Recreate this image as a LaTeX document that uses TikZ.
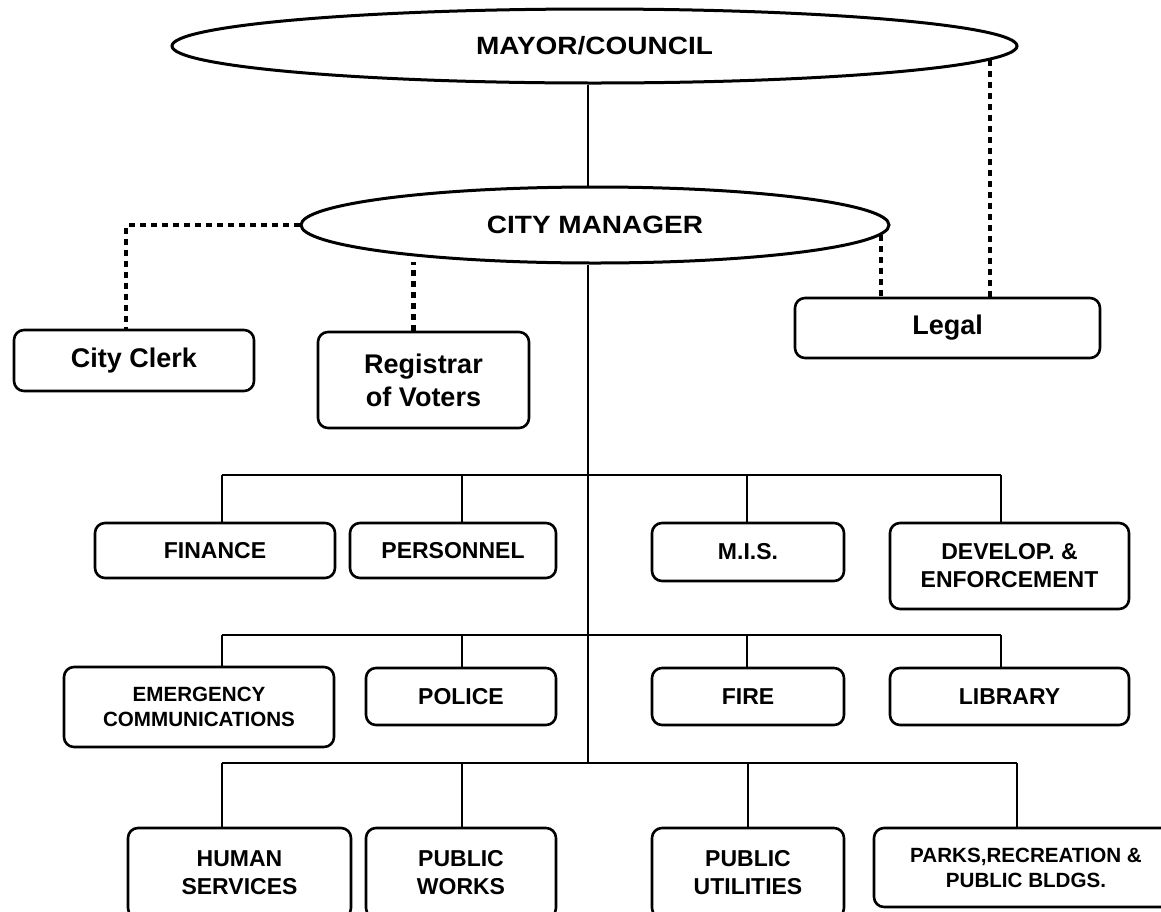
\documentclass[tikz,border=0pt]{standalone}
\usepackage{fontspec}
\setmainfont{Liberation Sans}
\newfontfamily\ovalfont{Liberation Sans}[FakeStretch=1.12]
\usetikzlibrary{shapes.geometric}
\tikzset{dbox/.style={draw, rounded corners=5pt, line width=1.3pt, align=center, inner sep=0pt, font=\bfseries\fontsize{11.5}{14}\selectfont}}
\tikzset{doval/.style={draw, ellipse, line width=1.5pt, inner sep=0pt, font=\ovalfont\bfseries\fontsize{12.5}{15}\selectfont}}
\tikzset{lgtext/.style={font=\bfseries\fontsize{13.5}{16.5}\selectfont}}
\tikzset{smtext/.style={font=\bfseries\fontsize{10.3}{12.5}\selectfont}}
\tikzset{ln/.style={draw, line width=1pt}}
\tikzset{dotln/.style={draw, line width=2.2pt, dash pattern=on 3pt off 2.5pt}}

\begin{document}
\begin{tikzpicture}[x=0.5pt, y=-0.5pt]
        \useasboundingbox (0,0) rectangle (1161,911);
        \clip (0,0) rectangle (1161,911);

        \node[doval, minimum width=422.5pt, minimum height=37pt] (Mayor) at (594.5,46) {MAYOR/COUNCIL};
        \node[doval, minimum width=294pt, minimum height=38pt] (CM) at (595,225) {CITY MANAGER};

        \node[dbox, lgtext, minimum width=120pt, minimum height=30.5pt] (Clerk) at (134,360.5) {City Clerk};
        \node[dbox, lgtext, minimum width=105.5pt, minimum height=48pt] (Reg) at (423.5,380) {Registrar\\of Voters};
        \node[dbox, lgtext, minimum width=152.5pt, minimum height=30pt] (Legal) at (947.5,328) {Legal};

        \node[dbox, minimum width=120pt, minimum height=27.5pt] (Fin) at (215,550.5) {FINANCE};
        \node[dbox, minimum width=103pt, minimum height=27.5pt] (Pers) at (453,550.5) {PERSONNEL};
        \node[dbox, minimum width=96pt, minimum height=29pt] (MIS) at (748,552) {M.I.S.};
        \node[dbox, minimum width=119.5pt, minimum height=43pt] (Dev) at (1009.5,566) {DEVELOP. \&\\ENFORCEMENT};

        \node[dbox, smtext, minimum width=135pt, minimum height=40pt] (Emc) at (199,707) {EMERGENCY\\COMMUNICATIONS};
        \node[dbox, minimum width=95pt, minimum height=28.5pt] (Pol) at (461,696.5) {POLICE};
        \node[dbox, minimum width=96pt, minimum height=28.5pt] (Fire) at (748,696.5) {FIRE};
        \node[dbox, minimum width=119.5pt, minimum height=28.5pt] (Lib) at (1009.5,696.5) {LIBRARY};

        \node[dbox, minimum width=111.5pt, minimum height=45pt] (Hum) at (239.5,873) {HUMAN\\SERVICES};
        \node[dbox, minimum width=95pt, minimum height=45pt] (Pw) at (461,873) {PUBLIC\\WORKS};
        \node[dbox, minimum width=96pt, minimum height=45pt] (Pu) at (748,873) {PUBLIC\\UTILITIES};
        \node[dbox, smtext, minimum width=152pt, minimum height=39.5pt] (Parks) at (1026,867.5) {PARKS,RECREATION \&\\PUBLIC BLDGS.};

        % bus rows
        \coordinate (r1a) at (222,475);
        \coordinate (r1b) at (462,475);
        \coordinate (r1c) at (747,475);
        \coordinate (r1d) at (1001,475);
        \coordinate (r2a) at (222,635);
        \coordinate (r2b) at (462,635);
        \coordinate (r2c) at (747,635);
        \coordinate (r2d) at (1001,635);
        \coordinate (r3a) at (222,763);
        \coordinate (r3b) at (462,763);
        \coordinate (r3c) at (748,763);
        \coordinate (r3d) at (1017,763);
        \coordinate (trunk) at (588,763);

        \draw[ln] (Mayor.south -| trunk) -- (CM.north -| trunk);
        \draw[ln] (CM.south -| trunk) -- (trunk);

        \draw[ln] (r1a) -- (r1d);
        \draw[ln] (r1a) -- (Fin.north -| r1a);
        \draw[ln] (r1b) -- (Pers.north -| r1b);
        \draw[ln] (r1c) -- (MIS.north -| r1c);
        \draw[ln] (r1d) -- (Dev.north -| r1d);

        \draw[ln] (r2a) -- (r2d);
        \draw[ln] (r2a) -- (Emc.north -| r2a);
        \draw[ln] (r2b) -- (Pol.north -| r2b);
        \draw[ln] (r2c) -- (Fire.north -| r2c);
        \draw[ln] (r2d) -- (Lib.north -| r2d);

        \draw[ln] (r3a) -- (r3d);
        \draw[ln] (r3a) -- (Hum.north -| r3a);
        \draw[ln] (r3b) -- (Pw.north -| r3b);
        \draw[ln] (r3c) -- (Pu.north -| r3c);
        \draw[ln] (r3d) -- (Parks.north -| r3d);

        % staff lines
        \draw[dotln] (CM.west) -| ([xshift=-4pt]Clerk.north);
        \draw[dotln] ([xshift=-5pt]Reg.north) -- ++(0,-69);
        \draw[dotln] (CM.-2.5) -- (CM.-2.5 |- Legal.north);
        \draw[dotln] (Mayor.-2) -- (Mayor.-2 |- Legal.north);
    \end{tikzpicture}
\end{document}
